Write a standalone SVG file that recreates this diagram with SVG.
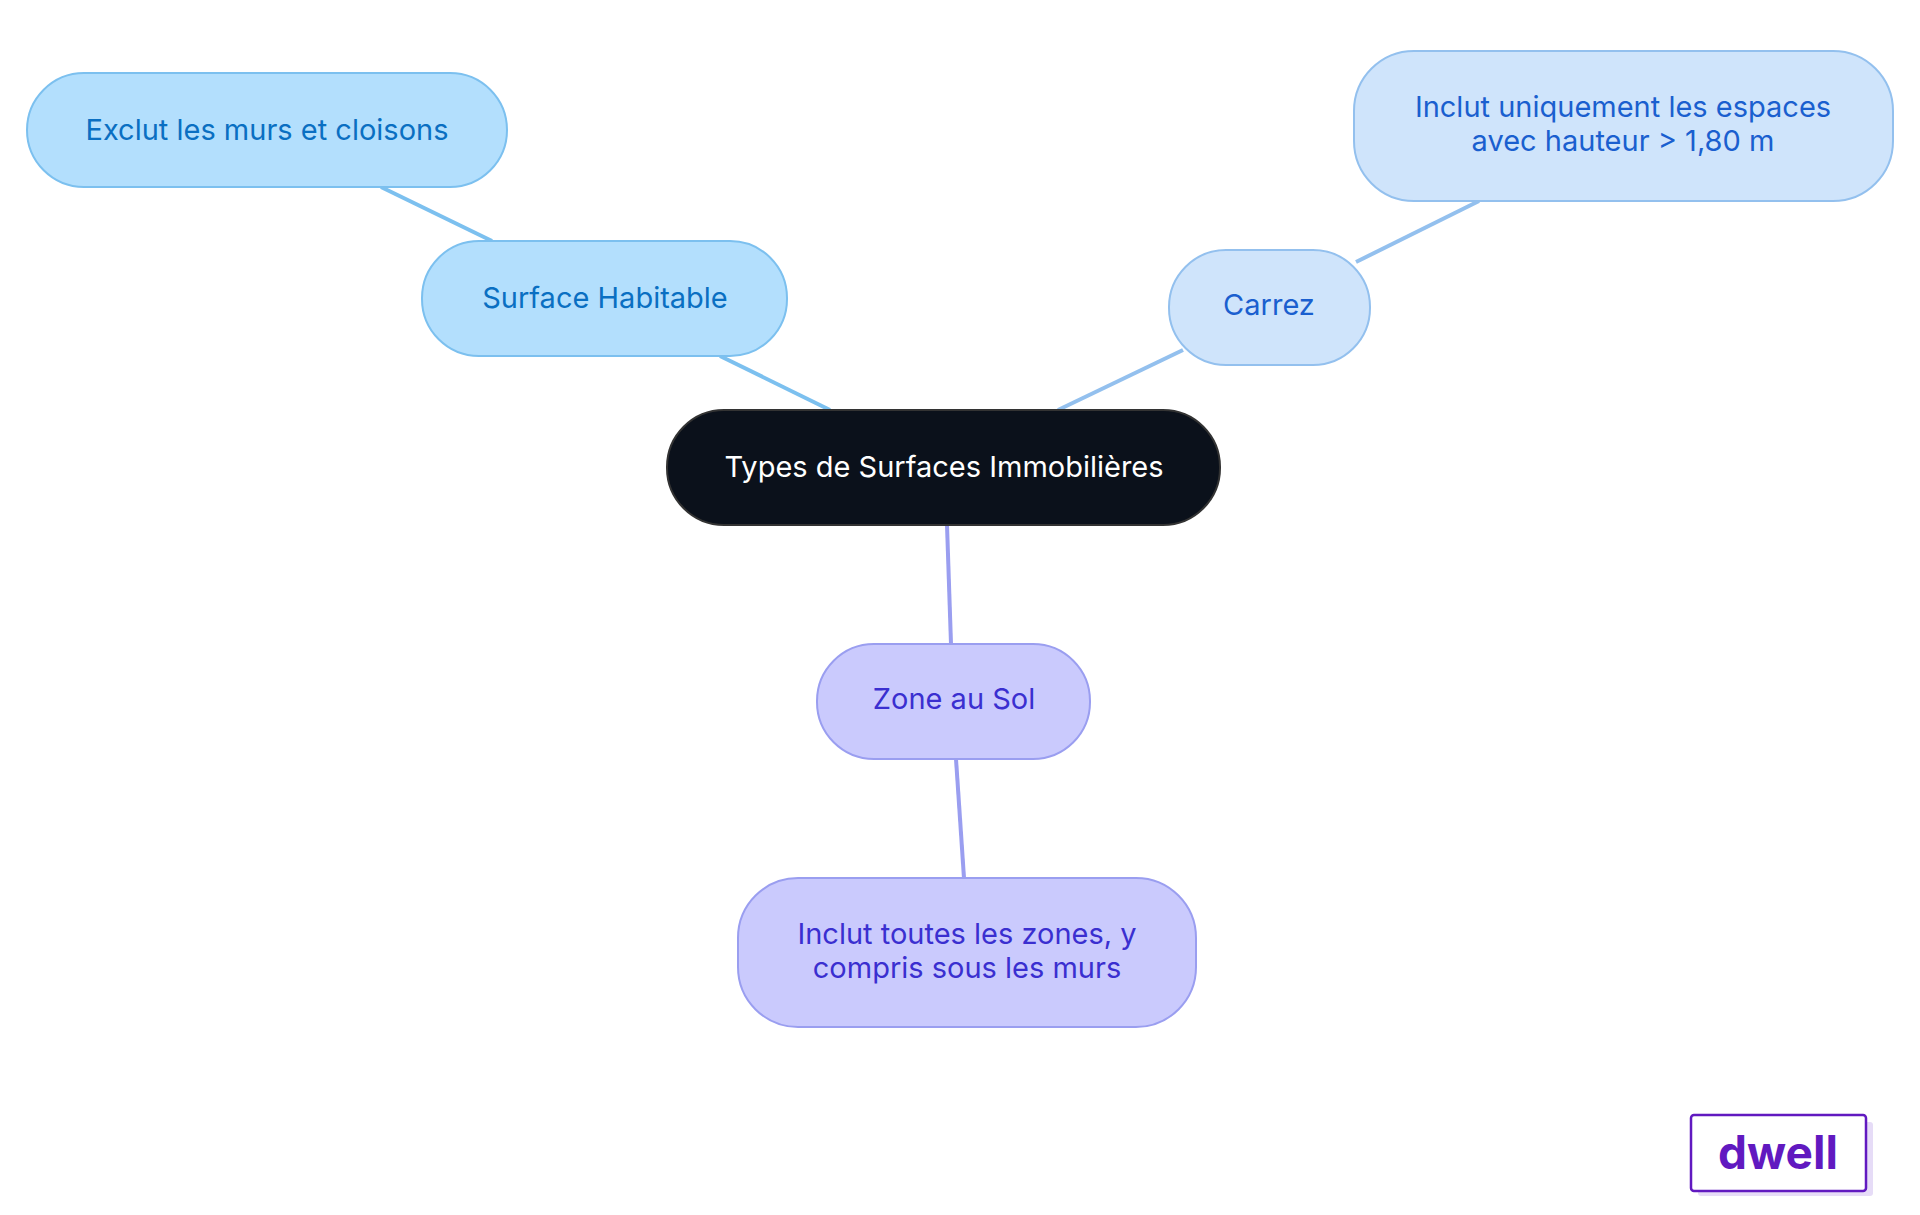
<svg xmlns="http://www.w3.org/2000/svg" width="1920" height="1215" viewBox="0 0 1920 1215">
<style>
text{font-family:Inter,"Noto Sans",sans-serif;font-size:29px;text-anchor:middle}
.b rect{fill:#b3dffd;stroke:#7cc0ef;stroke-width:2}.b text{fill:#0a6fc2}
.c rect{fill:#cfe4fb;stroke:#93c0ee;stroke-width:2}.c text{fill:#1a5fcf}
.p rect{fill:#cacafd;stroke:#9a9ef0;stroke-width:2}.p text{fill:#3a2fd0}
#links line{stroke-width:4}
</style>
<rect width="1920" height="1215" fill="#fff"/>
<g id="links">
<line x1="830" y1="410" x2="720" y2="356" stroke="#7cc0ef"/>
<line x1="492" y1="241" x2="381" y2="187" stroke="#7cc0ef"/>
<line x1="1058" y1="410" x2="1183" y2="350" stroke="#93c0ee"/>
<line x1="1356" y1="262" x2="1479" y2="201" stroke="#93c0ee"/>
<line x1="947" y1="525" x2="951" y2="644" stroke="#9a9ef0"/>
<line x1="956" y1="759" x2="964" y2="878" stroke="#9a9ef0"/>
</g>
<g id="center"><rect x="667" y="410" width="553" height="115" rx="57" fill="#0b111b" stroke="#333" stroke-width="2"/><text x="944" y="477" fill="#fff">Types de Surfaces Immobilières</text></g>
<g id="habitable" class="b"><rect x="422" y="241" width="365" height="115" rx="57"/><text x="605" y="308">Surface Habitable</text></g>
<g id="exclut" class="b"><rect x="27" y="73" width="480" height="114" rx="57"/><text x="267" y="140">Exclut les murs et cloisons</text></g>
<g id="carrez" class="c"><rect x="1169" y="250" width="201" height="115" rx="57"/><text x="1269" y="315">Carrez</text></g>
<g id="inclut1" class="c"><rect x="1354" y="51" width="539" height="150" rx="60"/><text x="1623" y="117">Inclut uniquement les espaces</text><text x="1623" y="151">avec hauteur &gt; 1,80 m</text></g>
<g id="zone" class="p"><rect x="817" y="644" width="273" height="115" rx="57"/><text x="954" y="709">Zone au Sol</text></g>
<g id="inclut2" class="p"><rect x="738" y="878" width="458" height="149" rx="60"/><text x="967" y="944">Inclut toutes les zones, y</text><text x="967" y="978">compris sous les murs</text></g>
<g id="logo"><rect x="1698" y="1122" width="175" height="74" rx="3" fill="#e6dcf7"/><rect x="1691" y="1115" width="175" height="76" rx="3" fill="#fff" stroke="#6119c0" stroke-width="2.5"/><text x="1778" y="1169" style="font-size:46px;font-weight:700;fill:#6119c0">dwell</text></g>
</svg>
